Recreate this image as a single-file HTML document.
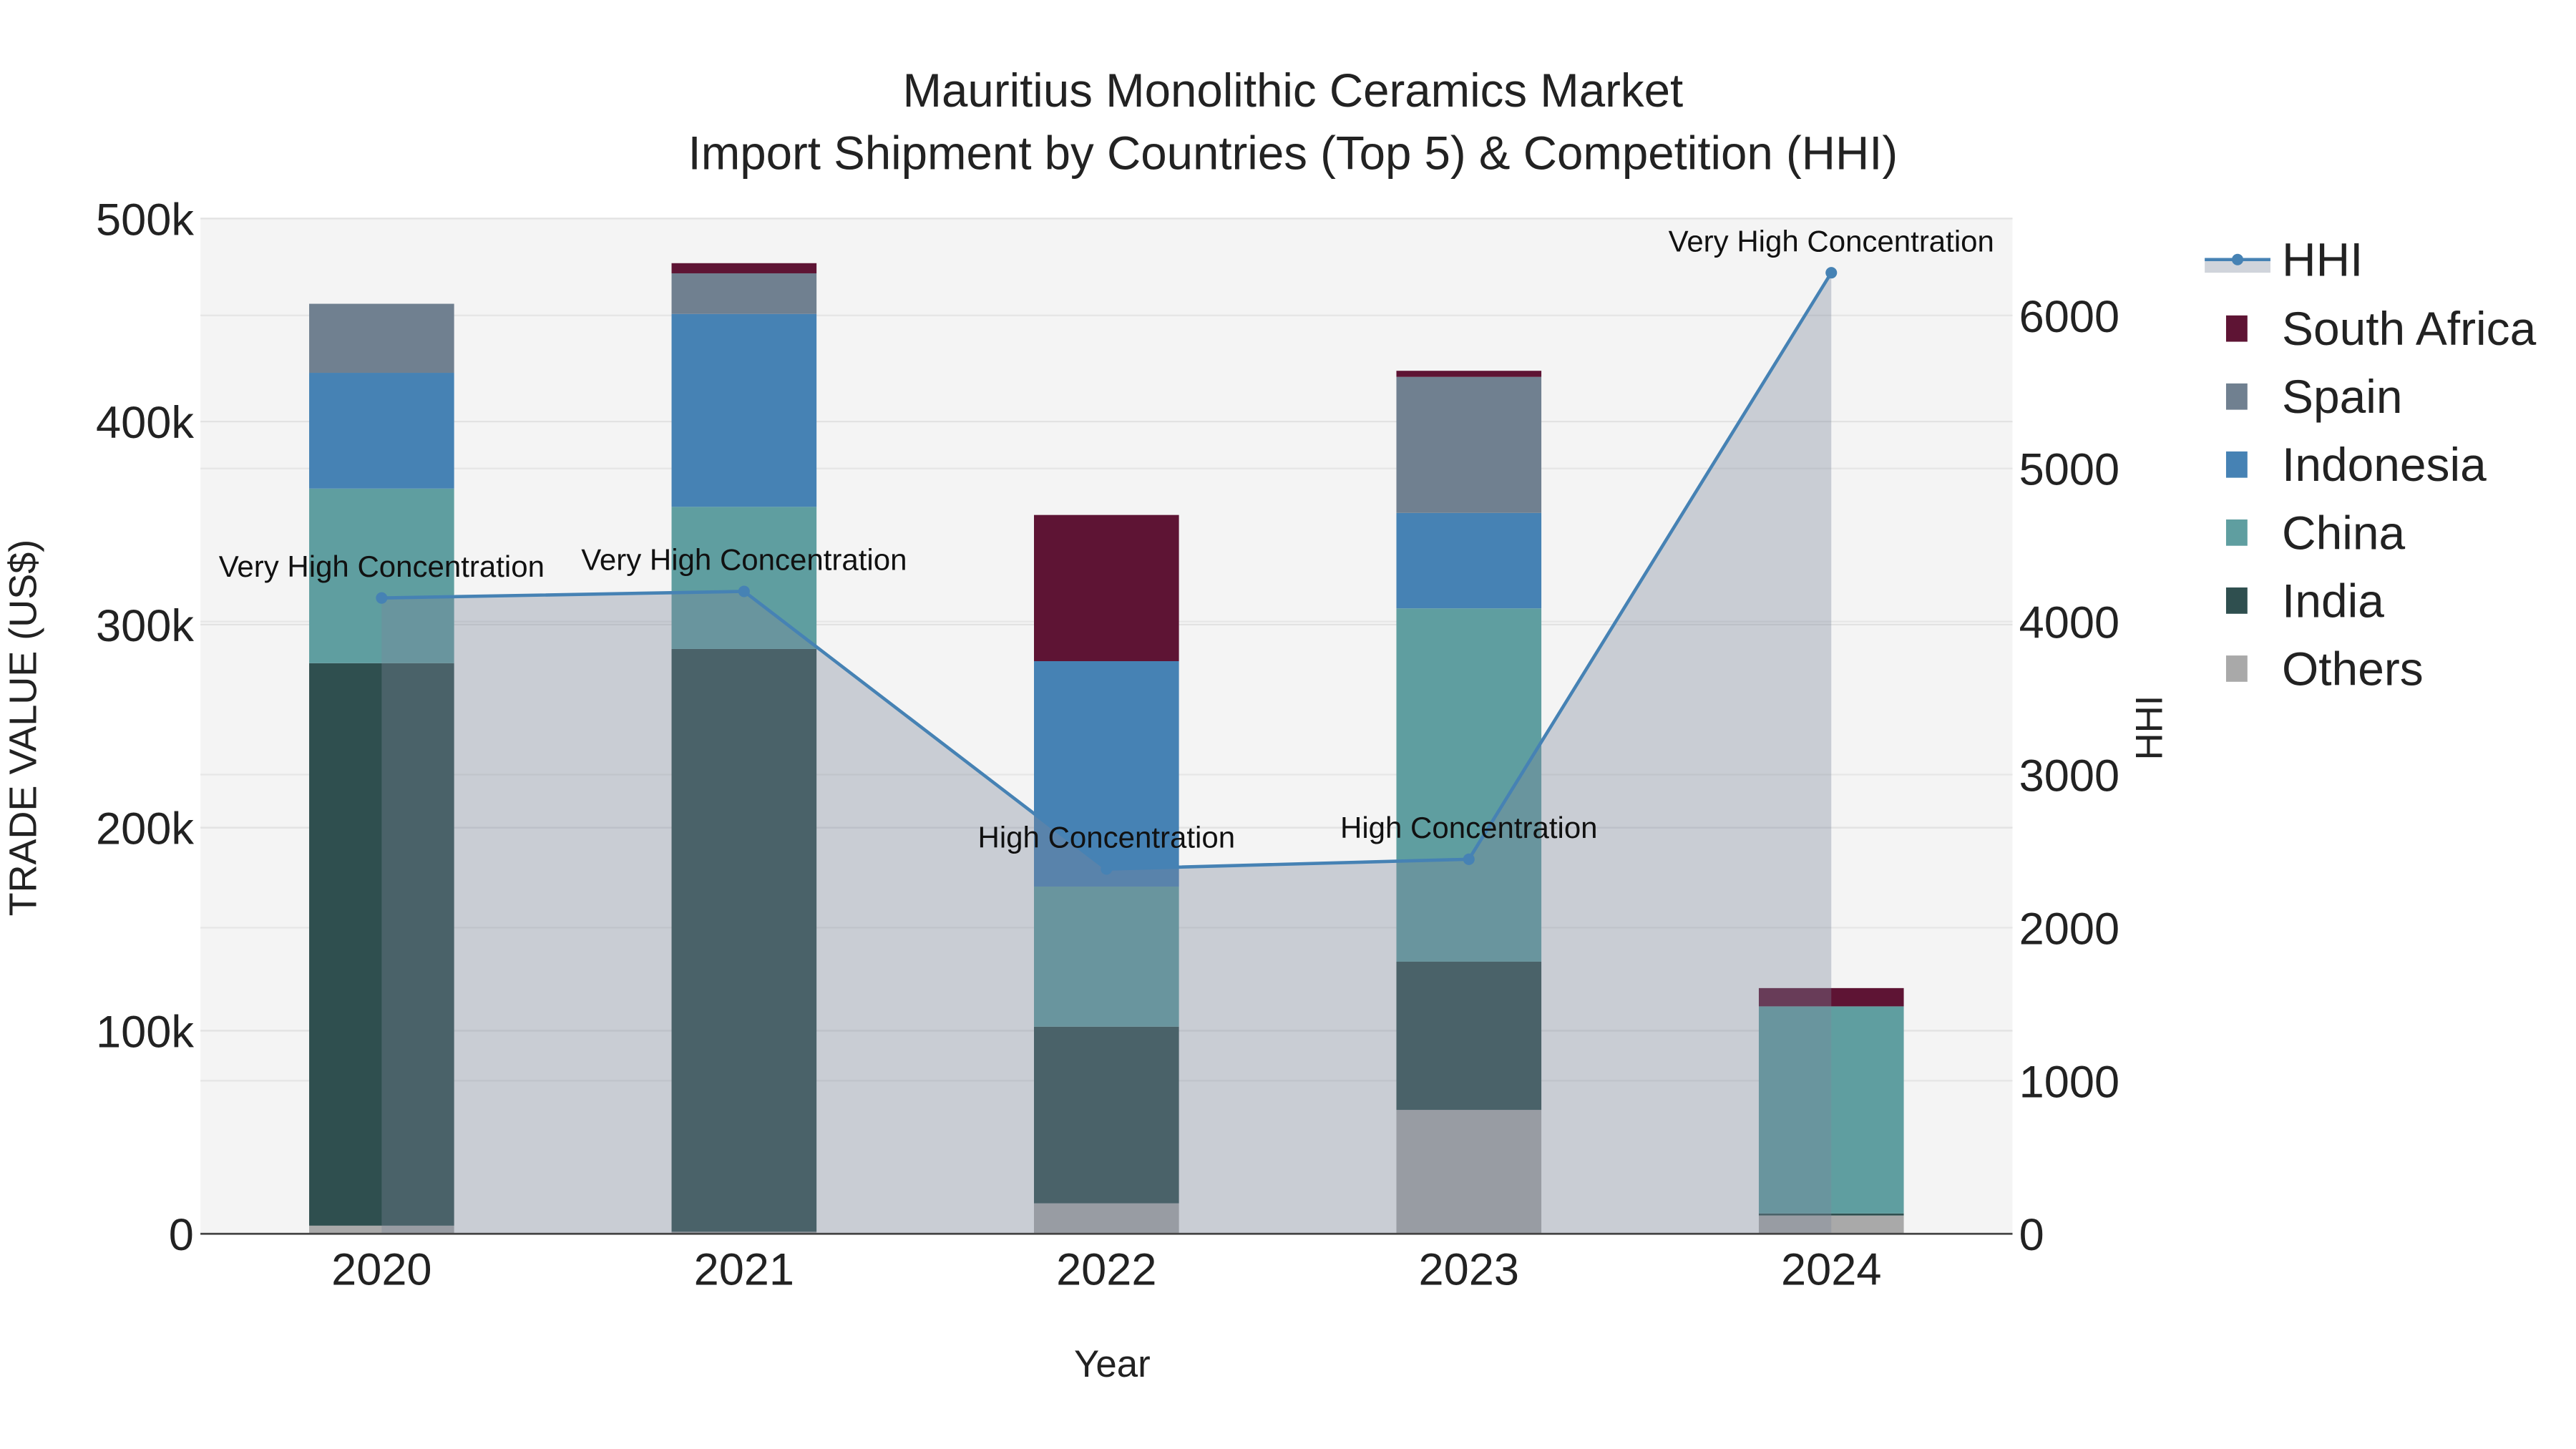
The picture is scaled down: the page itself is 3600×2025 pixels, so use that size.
<!DOCTYPE html>
<html><head><meta charset="utf-8"><style>
html,body{margin:0;padding:0;background:#fff;}
svg{display:block;font-family:"Liberation Sans",Arial,sans-serif;}
</style></head><body>
<svg id="chart" width="3600" height="2025" viewBox="0 0 1568 882" xmlns="http://www.w3.org/2000/svg">
<rect x="0" y="0" width="1568" height="882" fill="#fff"/>
<rect x="122" y="133" width="1103" height="618" fill="#f4f4f4"/>
<g id="grid"></g><g id="bars"></g><g id="hhi"></g><g id="axes"></g><g id="legend"></g>
<text x="787" y="65" text-anchor="middle" font-size="28.5" fill="#222">Mauritius Monolithic Ceramics Market</text>
<text x="787" y="103" text-anchor="middle" font-size="28.5" fill="#222">Import Shipment by Countries (Top 5) &amp; Competition (HHI)</text>
<text x="677" y="838" text-anchor="middle" font-size="23" fill="#222">Year</text>
<text transform="translate(22,443) rotate(-90)" text-anchor="middle" font-size="23.5" fill="#222">TRADE VALUE (US$)</text>
<text transform="translate(1316,443) rotate(-90)" text-anchor="middle" font-size="23" fill="#222">HHI</text>
</svg>
<script>
const years=["2020","2021","2022","2023","2024"];
const others=[4,1,15,61,9];
const india=[277,287,87,73,1];
const china=[86,70,69,174,102];
const indonesia=[57,95,111,47,0];
const spain=[34,20,0,67,0];
const southAfrica=[0,5,72,3,9];
const hhi=[4154,4197,2383,2447,6279];
const hhiLabels=["Very High Concentration","Very High Concentration","High Concentration","High Concentration","Very High Concentration"];
const yTicks=[0,100,200,300,400,500];
const yTickLabels=["0","100k","200k","300k","400k","500k"];
const y2Ticks=[0,1000,2000,3000,4000,5000,6000];

const NS="http://www.w3.org/2000/svg";
const L=122,R=1225,T=133,B=751;
const xC=i=>L+(R-L)/years.length*(i+0.5);
const yL=v=>B-v*(B-T)/500;
const yR=v=>B-v*(559/6000);
function mk(p,tag,a){const e=document.createElementNS(NS,tag);for(const k in a)e.setAttribute(k,a[k]);p.appendChild(e);return e;}
const grid=document.getElementById('grid'),bars=document.getElementById('bars'),hg=document.getElementById('hhi'),ax=document.getElementById('axes'),lg=document.getElementById('legend');
yTicks.forEach((t,i)=>{
  const g=mk(grid,'line',{x1:L,x2:R,y1:yL(t),y2:yL(t),stroke:'#e2e2e2','stroke-width':1});
  
  
  const tx=mk(ax,'text',{x:118,y:yL(t)+10,'text-anchor':'end','font-size':27.5,fill:'#222'});
  tx.textContent=yTickLabels[i];
  
  
});
y2Ticks.forEach(t=>{
  const g=mk(grid,'line',{x1:L,x2:R,y1:yR(t),y2:yR(t),stroke:'#e6e6e6','stroke-width':1});
  
  
  const tx=mk(ax,'text',{x:1229,y:yR(t)+10,'text-anchor':'start','font-size':27.5,fill:'#222'});
  tx.textContent=String(t);
  
  
});
const series=[["Others",others,"#a9a9a9"],["India",india,"#2f4f4f"],["China",china,"#5f9ea0"],["Indonesia",indonesia,"#4682b4"],["Spain",spain,"#708090"],["South Africa",southAfrica,"#5e1434"]];
const bw=(R-L)/years.length*0.4;
years.forEach((y,i)=>{
  let acc=0;
  series.forEach(s=>{
    const v=s[1][i]; if(v<=0)return;
    const r=mk(bars,'rect',{x:xC(i)-bw/2,y:yL(acc+v),width:bw,height:yL(acc)-yL(acc+v),fill:s[2]});
    
    
    acc+=v;
  });
  const tx=mk(ax,'text',{x:xC(i),y:782,'text-anchor':'middle','font-size':27.5,fill:'#222'});
  tx.textContent=y;
  
  
});
const zl=mk(ax,'line',{x1:L,x2:R,y1:B,y2:B,stroke:'#444','stroke-width':1.2});


let pts=hhi.map((v,i)=>xC(i)+','+yR(v));
const area=mk(hg,'polygon',{points:xC(0)+','+B+' '+pts.join(' ')+' '+xC(hhi.length-1)+','+B,fill:'rgba(123,134,154,0.355)'});


const ln=mk(hg,'polyline',{points:pts.join(' '),fill:'none',stroke:'#4682b4','stroke-width':2});


hhi.forEach((v,i)=>{
  const c=mk(hg,'circle',{cx:xC(i),cy:yR(v),r:3.5,fill:'#4682b4'});
  
  
  const t=mk(hg,'text',{x:xC(i),y:yR(v)-13,'text-anchor':'middle','font-size':18.3,fill:'#111'});
  t.textContent=hhiLabels[i];
  
  
});
const lh=mk(lg,'rect',{x:1342,y:159,width:40,height:7,fill:'rgba(123,134,154,0.355)'});


const ll=mk(lg,'line',{x1:1342,x2:1382,y1:158,y2:158,stroke:'#4682b4','stroke-width':2});


const lc=mk(lg,'circle',{cx:1362,cy:158,r:3.5,fill:'#4682b4'});


const lt=mk(lg,'text',{x:1389,y:168,'font-size':28.7,fill:'#222'});
lt.textContent='HHI';


series.slice().reverse().forEach((s,k)=>{
  const yy=200+k*41.4;
  const r=mk(lg,'rect',{x:1355,y:yy-8,width:13,height:16,fill:s[2]});
  
  
  const t=mk(lg,'text',{x:1389,y:yy+10,'font-size':28.7,fill:'#222'});
  t.textContent=s[0];
  
  
});
</script>
</body></html>
